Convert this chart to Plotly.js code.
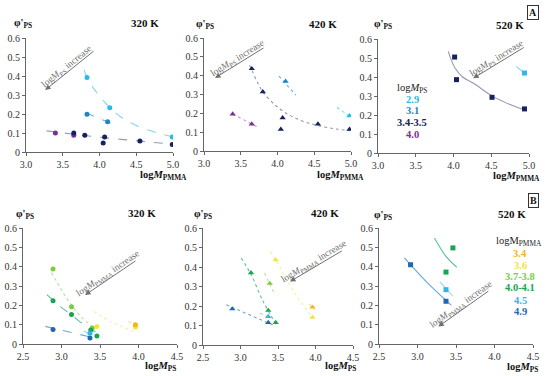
<!DOCTYPE html>
<html><head><meta charset="utf-8">
<script src="https://cdn.plot.ly/plotly-3.0.1.min.js"></script>
<style>html,body{margin:0;padding:0;background:#fff}#chart{width:550px;height:376px}</style>
</head><body><div id="chart"></div><script>
const W = 550, H = 376;
const FONT = "Liberation Serif, Times New Roman, serif";

// ---------- DATA: Panel A (x = logM_PMMA) ----------
// 320 K (circles)
const a320_c29_x = [3.83, 4.14, 4.99], a320_c29_y = [0.392, 0.233, 0.079];
const a320_c31_x = [3.83, 4.11], a320_c31_y = [0.199, 0.159];
const a320_nav_x = [3.65, 3.80, 4.05, 4.07, 4.55, 4.99], a320_nav_y = [0.100, 0.088, 0.048, 0.079, 0.058, 0.039];
const a320_pur_x = [3.40, 3.65], a320_pur_y = [0.100, 0.088];
const a320_fit29_x = [3.79, 3.83, 3.92, 4.02, 4.14, 4.30, 4.50, 4.75, 5.00];
const a320_fit29_y = [0.432, 0.392, 0.335, 0.285, 0.233, 0.182, 0.140, 0.105, 0.079];
const a320_fit31_x = [3.81, 4.19], a320_fit31_y = [0.206, 0.146];
const a320_fitAll_x = [3.28, 3.60, 4.00, 4.50, 5.00], a320_fitAll_y = [0.111, 0.096, 0.078, 0.059, 0.041];
// 420 K (triangles)
const a420_c29_x = [4.98], a420_c29_y = [0.187];
const a420_c31_x = [4.11], a420_c31_y = [0.370];
const a420_nav_x = [3.65, 3.80, 4.045, 4.07, 4.55, 4.98], a420_nav_y = [0.437, 0.314, 0.115, 0.176, 0.143, 0.115];
const a420_pur_x = [3.39, 3.65], a420_pur_y = [0.196, 0.143];
const a420_fitNav_x = [3.62, 3.65, 3.72, 3.80, 3.95, 4.10, 4.30, 4.55, 4.80, 4.99];
const a420_fitNav_y = [0.455, 0.430, 0.370, 0.314, 0.250, 0.205, 0.165, 0.135, 0.117, 0.108];
const a420_fitPur_x = [3.39, 3.74], a420_fitPur_y = [0.196, 0.125];
const a420_fit31_x = [4.02, 4.25], a420_fit31_y = [0.397, 0.296];
const a420_fit29_x = [4.81, 5.00], a420_fit29_y = [0.231, 0.180];
// 520 K (squares)
const a520_c29_x = [4.94], a520_c29_y = [0.421];
const a520_nav_x = [4.015, 4.04, 4.51, 4.94], a520_nav_y = [0.505, 0.386, 0.293, 0.232];
const a520_fitNav_x = [3.93, 3.97, 4.02, 4.12, 4.26, 4.52, 4.75, 4.965];
const a520_fitNav_y = [0.535, 0.490, 0.447, 0.400, 0.368, 0.298, 0.255, 0.223];
const a520_fit29_x = [4.83, 4.94], a520_fit29_y = [0.456, 0.421];

// ---------- DATA: Panel B (x = logM_PS) ----------
// 320 K (circles)
const b320_o34_x = [3.96], b320_o34_y = [0.100];
const b320_y36_x = [3.46, 3.96], b320_y36_y = [0.091, 0.088];
const b320_lg_x = [2.89, 3.13, 3.40], b320_lg_y = [0.388, 0.193, 0.083];
const b320_g_x = [2.89, 3.13, 3.38, 3.46], b320_g_y = [0.224, 0.152, 0.073, 0.041];
const b320_lb_x = [3.37], b320_lb_y = [0.055];
const b320_b_x = [2.89, 3.37], b320_b_y = [0.075, 0.031];
const b320_fitLg_x = [2.87, 3.00, 3.13, 3.27, 3.42], b320_fitLg_y = [0.370, 0.280, 0.200, 0.135, 0.085];
const b320_fitG_x = [2.81, 2.97, 3.13, 3.29, 3.44], b320_fitG_y = [0.255, 0.198, 0.150, 0.100, 0.062];
const b320_fitB_x = [2.79, 3.40], b320_fitB_y = [0.091, 0.034];
const b320_fitLb_x = [3.29, 3.44], b320_fitLb_y = [0.066, 0.040];
const b320_fitY_x = [3.42, 3.63, 3.94], b320_fitY_y = [0.169, 0.117, 0.066];
const b320_fitO_x = [3.87, 3.96], b320_fitO_y = [0.117, 0.091];
// 420 K (triangles)
const b420_o34_x = [3.96], b420_o34_y = [0.194];
const b420_y36_x = [3.47, 3.96], b420_y36_y = [0.436, 0.142];
const b420_lg_x = [3.39], b420_lg_y = [0.316];
const b420_g_x = [3.14, 3.37, 3.47], b420_g_y = [0.370, 0.177, 0.115];
const b420_lb_x = [3.37], b420_lb_y = [0.146];
const b420_b_x = [2.89, 3.37], b420_b_y = [0.185, 0.115];
const b420_fitB_x = [2.81, 3.43], b420_fitB_y = [0.206, 0.103];
const b420_fitLb_x = [3.26, 3.41], b420_fitLb_y = [0.163, 0.137];
const b420_fitG_x = [3.01, 3.14, 3.30, 3.48], b420_fitG_y = [0.446, 0.362, 0.225, 0.103];
const b420_fitLg_x = [3.32, 3.46], b420_fitLg_y = [0.369, 0.257];
const b420_fitY_x = [3.40, 3.47, 3.70, 3.97], b420_fitY_y = [0.480, 0.436, 0.280, 0.137];
const b420_fitO_x = [3.92, 3.99], b420_fitO_y = [0.210, 0.180];
// 520 K (squares)
const b520_b_x = [2.91, 3.37], b520_b_y = [0.410, 0.221];
const b520_lb_x = [3.37], b520_lb_y = [0.281];
const b520_g_x = [3.46, 3.37], b520_g_y = [0.497, 0.372];
const b520_fitB_x = [2.83, 3.11, 3.44], b520_fitB_y = [0.445, 0.324, 0.200];
const b520_fitLb_x = [3.29, 3.46], b520_fitLb_y = [0.321, 0.247];
const b520_fitG_x = [3.22, 3.37, 3.51], b520_fitG_y = [0.548, 0.453, 0.397];

// Legend labels
const legendA_labels = ["2.9", "3.1", "3.4-3.5", "4.0"];
const legendB_labels = ["3.4", "3.6", "3.7-3.8", "4.0-4.1", "4.5", "4.9"];
const tempLabels = ["320 K", "420 K", "520 K"];

// ---------- STYLE ----------
const C = {
  c29: "#2bb8ea", c31: "#1e86c8", nav: "#16215f", pur: "#7b3192",
  o34: "#f5b416", y36: "#f0e444", lg: "#7ccc3e", g: "#16a551", lb: "#33b5e8", b: "#1e67b2"
};
const F = {
  c29: "#7fd6f4", c31: "#6fb0dc", nav: "#9398b8", pur: "#c498cf",
  o34: "#f8d489", y36: "#f6ef9e", lg: "#b9e39c", g: "#5cbfa0", lb: "#8fd8f3", b: "#6aa6d8"
};

// panel plot boxes in pixels (left, right, bottom(y=0), top(y=0.6))
const P = [
  {id: 1, l: 26,  r: 173, b: 152, t: 38, xr: [3, 5]},
  {id: 2, l: 204, r: 351, b: 151, t: 38, xr: [3, 5]},
  {id: 3, l: 378, r: 529, b: 153, t: 39, xr: [3, 5]},
  {id: 4, l: 23,  r: 177, b: 344, t: 228, xr: [2.5, 4.5]},
  {id: 5, l: 203, r: 353, b: 345, t: 228, xr: [2.5, 4.5]},
  {id: 6, l: 379, r: 533, b: 344, t: 228, xr: [2.5, 4.5]}
];
function toPx(p, x, y) {
  return [p.l + (x - p.xr[0]) / (p.xr[1] - p.xr[0]) * (p.r - p.l), p.b - y / 0.6 * (p.b - p.t)];
}

const traces = [];
function ax(i) { return i === 1 ? "" : String(i); }
const MS = {"circle": 5, "triangle-up": 5.5, "square": 5};
function pts(i, xs, ys, col, sym) {
  traces.push({x: xs, y: ys, xaxis: "x" + ax(i), yaxis: "y" + ax(i), type: "scatter", mode: "markers",
    marker: {color: col, size: MS[sym], symbol: sym}, hoverinfo: "skip", showlegend: false});
}
function fit(i, xs, ys, col, dash) {
  traces.push({x: xs, y: ys, xaxis: "x" + ax(i), yaxis: "y" + ax(i), type: "scatter", mode: "lines",
    line: {color: col, width: 1.1, dash: dash, shape: "spline"}, hoverinfo: "skip", showlegend: false});
}

// Panel A 320
fit(1, a320_fit29_x, a320_fit29_y, F.c29, "dash");
fit(1, a320_fit31_x, a320_fit31_y, F.c31, "dash");
fit(1, a320_fitAll_x, a320_fitAll_y, F.nav, "dash");
pts(1, a320_c29_x, a320_c29_y, C.c29, "circle");
pts(1, a320_c31_x, a320_c31_y, C.c31, "circle");
pts(1, a320_pur_x, a320_pur_y, C.pur, "circle");
pts(1, a320_nav_x, a320_nav_y, C.nav, "circle");
// Panel A 420
fit(2, a420_fitNav_x, a420_fitNav_y, F.nav, "dot");
fit(2, a420_fitPur_x, a420_fitPur_y, F.pur, "dot");
fit(2, a420_fit31_x, a420_fit31_y, F.c31, "dot");
fit(2, a420_fit29_x, a420_fit29_y, F.c29, "dot");
pts(2, a420_c29_x, a420_c29_y, C.c29, "triangle-up");
pts(2, a420_c31_x, a420_c31_y, C.c31, "triangle-up");
pts(2, a420_pur_x, a420_pur_y, C.pur, "triangle-up");
pts(2, a420_nav_x, a420_nav_y, C.nav, "triangle-up");
// Panel A 520
fit(3, a520_fitNav_x, a520_fitNav_y, F.nav, "solid");
fit(3, a520_fit29_x, a520_fit29_y, F.c29, "solid");
pts(3, a520_c29_x, a520_c29_y, C.c29, "square");
pts(3, a520_nav_x, a520_nav_y, C.nav, "square");
// Panel B 320
fit(4, b320_fitLg_x, b320_fitLg_y, F.lg, "dot");
fit(4, b320_fitG_x, b320_fitG_y, F.g, "dash");
fit(4, b320_fitB_x, b320_fitB_y, F.b, "dash");
fit(4, b320_fitLb_x, b320_fitLb_y, F.lb, "dash");
fit(4, b320_fitY_x, b320_fitY_y, F.y36, "dot");
fit(4, b320_fitO_x, b320_fitO_y, F.o34, "dot");
pts(4, b320_lg_x, b320_lg_y, C.lg, "circle");
pts(4, b320_g_x, b320_g_y, C.g, "circle");
pts(4, b320_b_x, b320_b_y, C.b, "circle");
pts(4, b320_lb_x, b320_lb_y, C.lb, "circle");
pts(4, b320_y36_x, b320_y36_y, C.y36, "circle");
pts(4, b320_o34_x, b320_o34_y, C.o34, "circle");
// Panel B 420
fit(5, b420_fitB_x, b420_fitB_y, F.b, "dot");
fit(5, b420_fitLb_x, b420_fitLb_y, F.lb, "dot");
fit(5, b420_fitG_x, b420_fitG_y, F.g, "dot");
fit(5, b420_fitLg_x, b420_fitLg_y, F.lg, "dot");
fit(5, b420_fitY_x, b420_fitY_y, F.y36, "dot");
fit(5, b420_fitO_x, b420_fitO_y, F.o34, "dot");
pts(5, b420_b_x, b420_b_y, C.b, "triangle-up");
pts(5, b420_lb_x, b420_lb_y, C.lb, "triangle-up");
pts(5, b420_g_x, b420_g_y, C.g, "triangle-up");
pts(5, b420_lg_x, b420_lg_y, C.lg, "triangle-up");
pts(5, b420_y36_x, b420_y36_y, C.y36, "triangle-up");
pts(5, b420_o34_x, b420_o34_y, C.o34, "triangle-up");
// Panel B 520
fit(6, b520_fitB_x, b520_fitB_y, F.b, "solid");
fit(6, b520_fitLb_x, b520_fitLb_y, F.lb, "solid");
fit(6, b520_fitG_x, b520_fitG_y, F.g, "solid");
pts(6, b520_b_x, b520_b_y, C.b, "square");
pts(6, b520_lb_x, b520_lb_y, C.lb, "square");
pts(6, b520_g_x, b520_g_y, C.g, "square");

// ---------- LAYOUT ----------
const layout = {
  width: W, height: H, margin: {l: 0, r: 0, t: 0, b: 0},
  paper_bgcolor: "#fff", plot_bgcolor: "rgba(0,0,0,0)",
  showlegend: false, font: {family: FONT, size: 10, color: "#333"},
  annotations: [], shapes: []
};
P.forEach(p => {
  const xa = {
    domain: [p.l / W, p.r / W], range: p.xr, anchor: "y" + ax(p.id),
    showgrid: false, zeroline: false, showline: true, linecolor: "#666", linewidth: 1,
    ticks: "outside", ticklen: 3, tickcolor: "#666", dtick: 0.5, tickformat: ".1f",
    tickfont: {family: FONT, size: 10, color: "#333"}, fixedrange: true
  };
  const ya = {
    domain: [1 - p.b / H, 1 - p.t / H], range: [0, 0.6], anchor: "x" + ax(p.id),
    showgrid: false, zeroline: false, showline: true, linecolor: "#666", linewidth: 1,
    ticks: "outside", ticklen: 3, tickcolor: "#666", dtick: 0.1,
    tickfont: {family: FONT, size: 10, color: "#333"}, fixedrange: true
  };
  layout["xaxis" + ax(p.id)] = xa;
  layout["yaxis" + ax(p.id)] = ya;
});

function note(px, py, text, opts) {
  layout.annotations.push(Object.assign({
    x: px / W, y: 1 - py / H, xref: "paper", yref: "paper", text: text, showarrow: false,
    xanchor: "center", yanchor: "middle", font: {family: FONT, size: 10, color: "#222"}
  }, opts || {}));
}

// temperature titles
[[145, 23], [323, 24], [510, 25], [142, 213], [325, 213], [512, 214]].forEach((c, i) =>
  note(c[0], c[1], "<b>" + tempLabels[i % 3] + "</b>", {font: {family: FONT, size: 11, color: "#111"}}));
// y titles
[[23, 24], [205, 25], [383, 25], [25, 214], [203, 214], [383, 215]].forEach(c =>
  note(c[0], c[1], "<b>φ'<sub>PS</sub></b>", {font: {family: FONT, size: 10.5, color: "#111"}}));
// x titles
[[163, 175], [340, 175], [516, 176]].forEach(c =>
  note(c[0], c[1], "<b>log<i>M</i><sub>PMMA</sub></b>", {font: {family: FONT, size: 10.5, color: "#111"}}));
[[160, 366], [340, 366], [522, 367]].forEach(c =>
  note(c[0], c[1], "<b>log<i>M</i><sub>PS</sub></b>", {font: {family: FONT, size: 10.5, color: "#111"}}));
// panel letters
note(533, 13, "<b>A</b>", {bordercolor: "#333", borderwidth: 1, borderpad: 1, font: {family: FONT, size: 10, color: "#111"}});
note(533, 200, "<b>B</b>", {bordercolor: "#333", borderwidth: 1, borderpad: 1, font: {family: FONT, size: 10, color: "#111"}});

// legends
note(412, 88, "log<i>M</i><sub>PS</sub>", {font: {family: FONT, size: 10.5, color: "#222"}});
const legAcol = [C.c29, C.c31, C.nav, C.pur];
const legAy = [99, 110.5, 122.5, 134.5];
legendA_labels.forEach((t, i) => note(412, legAy[i], "<b>" + t + "</b>", {font: {family: FONT, size: 10.5, color: legAcol[i]}}));
note(519, 242, "logM<sub>PMMA</sub>", {font: {family: FONT, size: 10.5, color: "#222"}});
const legBcol = [C.o34, C.y36, C.lg, C.g, C.lb, C.b];
const legBy = [253.5, 265, 276, 287.5, 300, 311.5];
legendB_labels.forEach((t, i) => note(520, legBy[i], "<b>" + t + "</b>", {font: {family: FONT, size: 10.5, color: legBcol[i]}}));

// increase arrows: [panel, headX, headY, tailX, tailY, label]
const arrows = [
  [1, 3.26, 0.326, 3.94, 0.537, "log<i>M</i><sub>PS</sub> increase"],
  [2, 3.15, 0.388, 3.83, 0.552, "log<i>M</i><sub>PS</sub> increase"],
  [3, 4.26, 0.393, 4.95, 0.560, "log<i>M</i><sub>PS</sub> increase"],
  [4, 3.305, 0.253, 3.98, 0.435, "log<i>M</i><sub>PMMA</sub> increase"],
  [5, 3.66, 0.325, 4.37, 0.487, "log<i>M</i><sub>PMMA</sub> increase"],
  [6, 3.27, 0.090, 3.94, 0.279, "log<i>M</i><sub>PMMA</sub> increase"]
];
arrows.forEach(a => {
  const p = P[a[0] - 1];
  const h = toPx(p, a[1], a[2]), t = toPx(p, a[3], a[4]);
  layout.annotations.push({
    x: a[1], y: a[2], ax: a[3], ay: a[4], xref: "x" + ax(a[0]), yref: "y" + ax(a[0]),
    axref: "x" + ax(a[0]), ayref: "y" + ax(a[0]), text: "", showarrow: true,
    arrowhead: 2, arrowsize: 1.1, arrowwidth: 1, arrowcolor: "#6f6f6f"
  });
  const ang = Math.atan2(h[1] - t[1], t[0] - h[0]);
  const mx = (h[0] + t[0]) / 2, my = (h[1] + t[1]) / 2;
  const off = 5;
  note(mx - off * Math.sin(ang), my - off * Math.cos(ang), a[5],
    {textangle: -ang * 180 / Math.PI, font: {family: FONT, size: 9.5, color: "#6f6f6f"}});
});

Plotly.newPlot("chart", traces, layout, {staticPlot: true, displayModeBar: false});
</script></body></html>
